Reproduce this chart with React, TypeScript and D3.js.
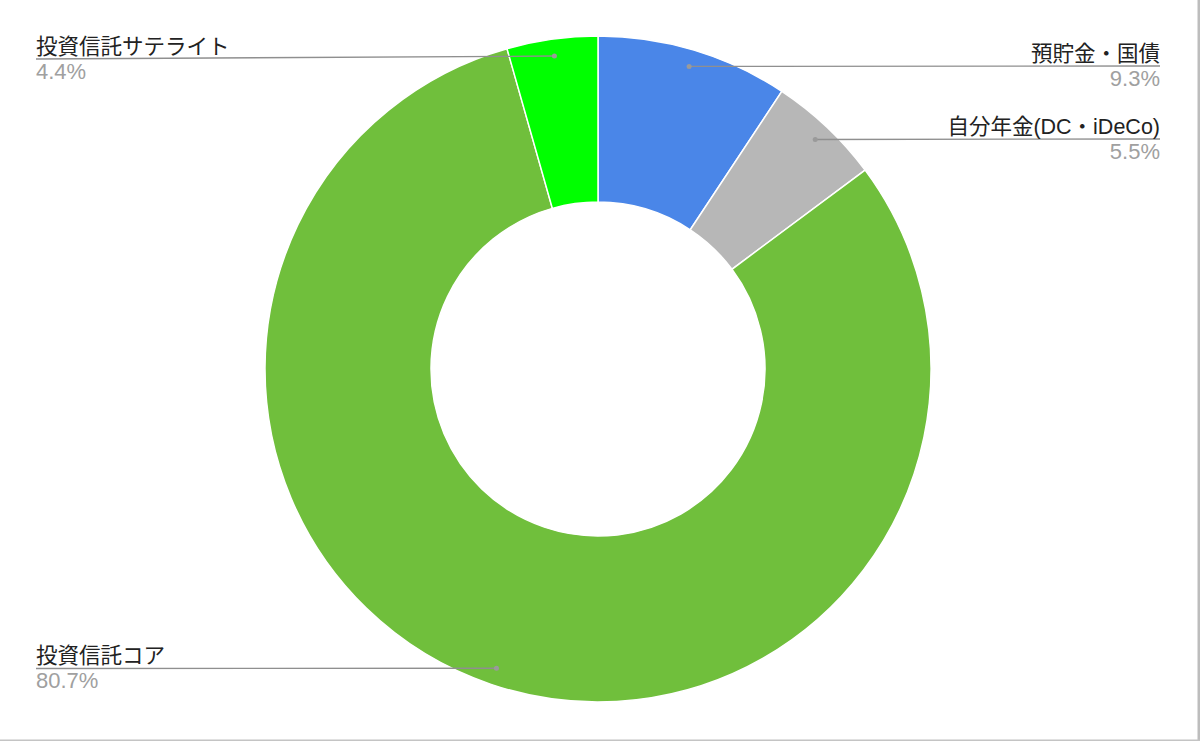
import { useEffect, useRef } from 'react';
import * as d3 from 'd3';

// Chart data
const categories = ['預貯金・国債', '自分年金(DC・iDeCo)', '投資信託コア', '投資信託サテライト'];
const values = [9.3, 5.5, 80.7, 4.4];
const colors = ['#4a86e8', '#b7b7b7', '#70bf3c', '#00ff00'];

// Where each label sits (end of the leader line)
const labelLayout = [
  { x: 1160, y: 66, side: 'right' },
  { x: 1160, y: 139, side: 'right' },
  { x: 36, y: 668.5, side: 'left' },
  { x: 36, y: 59, side: 'left' },
];

export default function App() {
  const ref = useRef<SVGSVGElement>(null);

  useEffect(() => {
    if (!ref.current) return;
    const svg = d3.select(ref.current);
    svg.selectAll('*').remove();

    const width = 1200;
    const height = 741;
    const cx = 598;
    const cy = 369;
    const outerR = 333;
    const innerR = 167;
    const font = 'Liberation Sans, "Noto Sans CJK JP", sans-serif';

    svg.append('rect').attr('width', width).attr('height', height).attr('fill', '#fff');

    const data = categories.map((c, i) => ({ name: c, value: values[i], color: colors[i], layout: labelLayout[i] }));

    const pie = d3.pie<typeof data[number]>().value(d => d.value).sort(null);
    const arcs = pie(data);
    const arc = d3.arc<d3.PieArcDatum<typeof data[number]>>().innerRadius(innerR).outerRadius(outerR);

    const g = svg.append('g').attr('transform', `translate(${cx},${cy})`);

    g.selectAll('path.slice')
      .data(arcs)
      .enter()
      .append('path')
      .attr('class', 'slice')
      .attr('d', arc)
      .attr('fill', d => d.data.color)
      .attr('stroke', '#fff')
      .attr('stroke-width', 1.5);

    // leader lines, dots and labels
    const dotR = 316;
    arcs.forEach(a => {
      const mid = (a.startAngle + a.endAngle) / 2;
      const px = cx + Math.sin(mid) * dotR;
      const py = cy - Math.cos(mid) * dotR;
      const L = a.data.layout;
      svg.append('line')
        .attr('x1', px).attr('y1', py)
        .attr('x2', L.x).attr('y2', L.y)
        .attr('stroke', '#8f8f8f')
        .attr('stroke-width', 1.3);
      svg.append('circle')
        .attr('cx', px).attr('cy', py).attr('r', 2.5)
        .attr('fill', '#9a9a9a');

      const anchor = L.side === 'right' ? 'end' : 'start';
      svg.append('text')
        .attr('x', L.x).attr('y', L.y - 5.5)
        .attr('text-anchor', anchor)
        .attr('font-family', font)
        .attr('font-size', 21.5)
        .attr('fill', '#222')
        .text(a.data.name);
      svg.append('text')
        .attr('x', L.x).attr('y', L.y + 19.5)
        .attr('text-anchor', anchor)
        .attr('font-family', font)
        .attr('font-size', 22)
        .attr('fill', '#a0a0a0')
        .text(d3.format('.1f')(a.data.value) + '%');
    });

    // frame edges (right and bottom)
    svg.append('rect').attr('x', 1197.5).attr('y', 0).attr('width', 2.5).attr('height', height).attr('fill', '#bdbdbd');
    svg.append('rect').attr('x', 0).attr('y', 739.5).attr('width', width).attr('height', 1.5).attr('fill', '#c4c4c4');
  }, []);

  return (
    <div style={{ position: 'absolute', left: 0, top: 0 }}>
      <svg ref={ref} width={1200} height={741} style={{ display: 'block' }} />
    </div>
  );
}
